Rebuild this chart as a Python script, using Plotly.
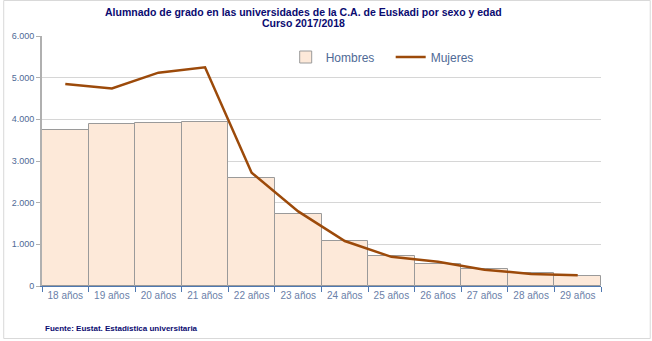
import plotly.graph_objects as go

categories = ["18 años", "19 años", "20 años", "21 años", "22 años", "23 años",
              "24 años", "25 años", "26 años", "27 años", "28 años", "29 años"]
hombres = [3750, 3880, 3920, 3930, 2600, 1720, 1070, 710, 520, 410, 310, 230]
mujeres = [4850, 4740, 5120, 5250, 2720, 1790, 1080, 700, 580, 390, 290, 260]

W, H = 652, 341
L, R, T, B = 39, 51, 36, 55
pw, ph = W - L - R, H - T - B


def px_x(x):
    return (x - L) / pw


def px_y(y):
    return (H - B - y) / ph


fig = go.Figure()
fig.add_trace(go.Bar(
    x=categories, y=hombres, name="Hombres",
    marker=dict(color="#fde9d9", line=dict(color="#9a9a9a", width=1)),
))
fig.add_trace(go.Scatter(
    x=categories, y=mujeres, name="Mujeres", mode="lines",
    line=dict(color="#9c4a0a", width=2.5),
))

tick_color = "#4f6a96"
fig.update_layout(
    width=W, height=H,
    margin=dict(l=L, r=R, t=T, b=B),
    paper_bgcolor="white", plot_bgcolor="white",
    bargap=0,
    separators=",.",
    legend=dict(
        orientation="h", x=px_x(284), xanchor="left", y=px_y(57), yanchor="middle",
        font=dict(family="Liberation Sans, Arial", size=12, color=tick_color),
        bgcolor="rgba(0,0,0,0)", itemwidth=30, tracegroupgap=0,
        entrywidthmode="pixels", entrywidth=60,
    ),
    xaxis=dict(
        showgrid=False, showline=True, linecolor="#4f78b0", linewidth=1,
        ticks="outside", tickson="boundaries", ticklen=5, tickcolor="#4f78b0",
        tickfont=dict(family="Liberation Sans, Arial", size=10, color="#6a80a8"),
    ),
    yaxis=dict(
        range=[0, 6000], dtick=1000, tickformat=",d",
        showgrid=True, gridcolor="#d6d6d6", gridwidth=1,
        showline=True, linecolor="#b0b0b0", linewidth=2,
        ticks="outside", ticklen=4, tickcolor="#b0b0b0",
        tickfont=dict(family="Liberation Sans, Arial", size=9, color=tick_color),
        zeroline=False,
    ),
    showlegend=True,
)

# Title
title_font = dict(family="Liberation Sans, Arial", size=10.5, color="#0a0a70")
fig.add_annotation(
    text="<b>Alumnado de grado en las universidades de la C.A. de Euskadi por sexo y edad</b>",
    xref="paper", yref="paper", x=px_x(302), y=px_y(12),
    xanchor="center", yanchor="middle", showarrow=False, font=title_font,
)
fig.add_annotation(
    text="<b>Curso 2017/2018</b>",
    xref="paper", yref="paper", x=px_x(302), y=px_y(23),
    xanchor="center", yanchor="middle", showarrow=False, font=title_font,
)

# Source note
fig.add_annotation(
    text="<b>Fuente: Eustat. Estadística universitaria</b>",
    xref="paper", yref="paper",
    x=px_x(40), y=px_y(328),
    xanchor="left", yanchor="middle", showarrow=False,
    font=dict(family="Liberation Sans, Arial", size=8, color="#0a0a70"),
)

# Outer chart border (light gray)
fig.add_shape(
    type="rect", xref="paper", yref="paper",
    x0=px_x(0.5), x1=px_x(W - 1.5),
    y0=px_y(H - 2.5), y1=px_y(0.5),
    line=dict(color="#d9d9d9", width=1), layer="below",
)

fig.write_html("out.html")
